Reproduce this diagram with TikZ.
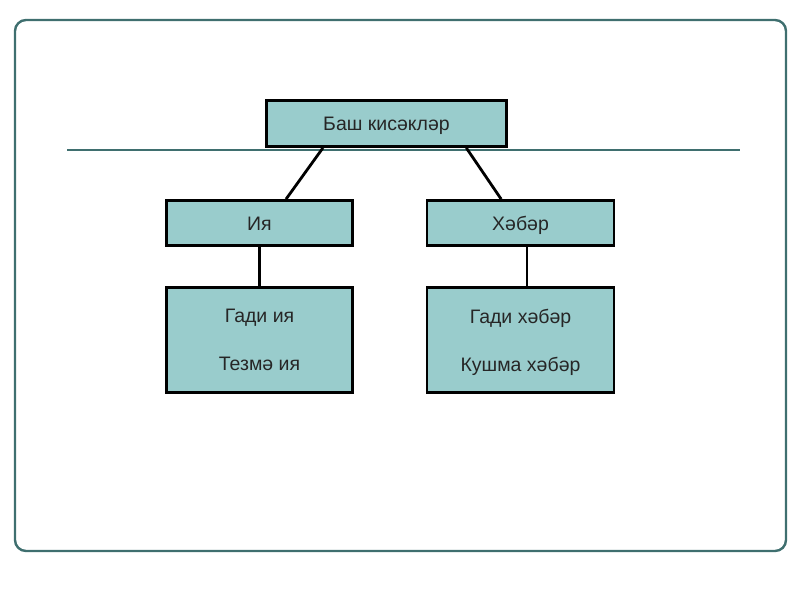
\documentclass[tikz,border=0pt]{standalone}
\usepackage{fontspec}
\setmainfont{Liberation Sans}
\usetikzlibrary{positioning}
\definecolor{boxfill}{HTML}{99CCCC}
\definecolor{framecol}{HTML}{3F6F6F}

\begin{document}
\begin{tikzpicture}[
        x=1pt,
        y=-1pt,
        every node/.style={font=\fontsize{19.5}{23}\selectfont, text=black!85},
        part/.style={draw=black, line width=2.8pt, fill=boxfill, inner sep=0pt,
            text height=15pt, text depth=1pt},
        group/.style={draw=black, line width=2.8pt, fill=boxfill, inner sep=0pt,
            align=center, text depth=-4pt},
        link/.style={line width=2.8pt, black}
    ]
    \useasboundingbox (0,0) rectangle (800,600);
    \draw[framecol, line width=2.4pt, rounded corners=11pt] (15,20) rectangle (786,551);

    \coordinate (rulel) at (67,150);
    \coordinate (ruler) at (740,150);
    \draw[framecol, line width=2pt] (rulel) -- (ruler);

    \node[part, minimum width=240pt, minimum height=46pt] (main) at (386.5,123.5) {Баш кисәкләр};

    \node[part, minimum width=186pt, minimum height=45pt] (iya) at (259.5,223) {Ия};
    \node[part, minimum width=187pt, minimum height=45pt] (xaber) at (520.5,223) {Хәбәр};

    \node[group, minimum width=186pt, minimum height=105pt] (iyatypes) at (259.5,340)
        {Гади ия\\[25pt]Тезмә ия};
    \node[group, minimum width=187pt, minimum height=105pt] (xabertypes) at (520.5,340)
        {Гади хәбәр\\[25pt]Кушма хәбәр};

    \draw[link] (main.-159) -- (iya.42);
    \draw[link] (main.-17) -- (xaber.129);
    \draw[link] (iya) -- (iyatypes);
    \draw[link] ([xshift=6.5pt]xaber.south) -- ([xshift=6.5pt]xabertypes.north);
\end{tikzpicture}
\end{document}
